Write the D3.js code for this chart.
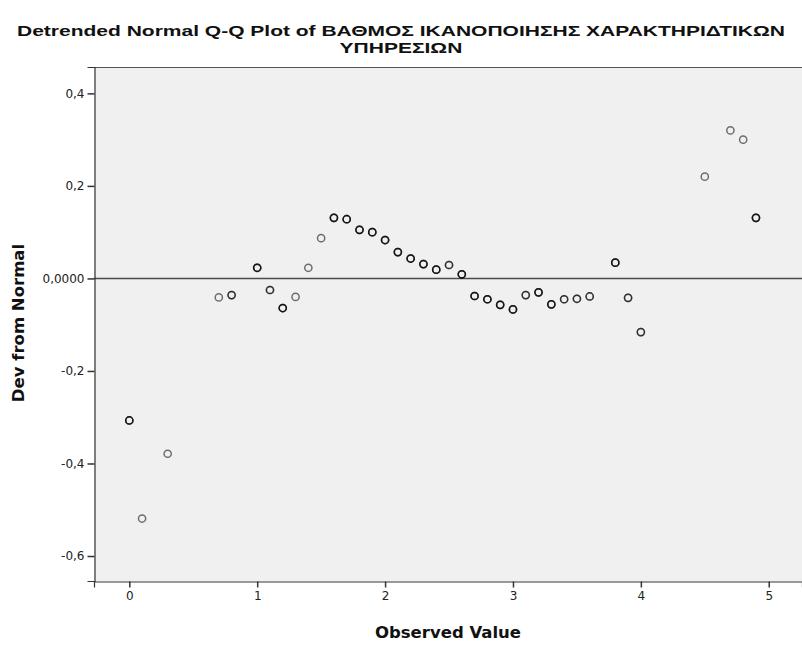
<!DOCTYPE html>
<html>
<head>
<meta charset="utf-8">
<script src="https://cdn.jsdelivr.net/npm/d3@7"></script>
<style>
  html, body { margin: 0; padding: 0; background: #fff; }
  svg { display: block; }
</style>
</head>
<body>
<div id="chart"></div>
<script>
const observed = [0, 0.1, 0.3, 0.7, 0.8, 1.0, 1.1, 1.2, 1.3, 1.4, 1.5, 1.6, 1.7, 1.8, 1.9,
  2.0, 2.1, 2.2, 2.3, 2.4, 2.5, 2.6, 2.7, 2.8, 2.9, 3.0, 3.1, 3.2, 3.3, 3.4, 3.5, 3.6,
  3.8, 3.9, 4.0, 4.5, 4.7, 4.8, 4.9];
const devFromNormal = [-0.307, -0.519, -0.379, -0.041, -0.036, 0.023, -0.025, -0.064, -0.040,
  0.023, 0.087, 0.131, 0.128, 0.105, 0.100, 0.083, 0.057, 0.043, 0.031, 0.019, 0.029, 0.009,
  -0.038, -0.045, -0.057, -0.067, -0.036, -0.030, -0.056, -0.045, -0.044, -0.039,
  0.034, -0.042, -0.116, 0.220, 0.320, 0.300, 0.131];
// how many cases sit on each point (overlapping circles draw darker)
const cases = [3, 1, 1, 1, 2, 3, 2, 3, 1, 1, 1, 3, 3, 3, 3,
  3, 3, 3, 3, 3, 2, 3, 3, 3, 3, 3, 2, 3, 3, 2, 2, 2,
  3, 2, 2, 1, 1, 1, 3];

const xTicks = [0, 1, 2, 3, 4, 5];
const yTicks = [0.4, 0.2, 0, -0.2, -0.4, -0.6];
const yTickLabels = ['0,4', '0,2', '0,0000', '-0,2', '-0,4', '-0,6'];

const titleLines = ['Detrended Normal Q-Q Plot of ΒΑΘΜΟΣ ΙΚΑΝΟΠΟΙΗΣΗΣ ΧΑΡΑΚΤΗΡΙΔΤΙΚΩΝ', 'ΥΠΗΡΕΣΙΩΝ'];
const xTitle = 'Observed Value';
const yTitle = 'Dev from Normal';

const width = 802, height = 653;
const plot = { left: 94, top: 67, right: 802, bottom: 581 };

const svg = d3.select('#chart').append('svg')
  .attr('width', width)
  .attr('height', height);

const x = d3.scaleLinear().domain([-0.276, 5.26]).range([plot.left, plot.right]);
const y = d3.scaleLinear().domain([-0.654, 0.457]).range([plot.bottom, plot.top]);

// plot background
svg.append('rect')
  .attr('x', plot.left)
  .attr('y', plot.top)
  .attr('width', plot.right - plot.left)
  .attr('height', plot.bottom - plot.top)
  .attr('fill', '#f0f0f0');

// top border
svg.append('line')
  .attr('x1', plot.left).attr('x2', plot.right)
  .attr('y1', plot.top + 0.5).attr('y2', plot.top + 0.5)
  .attr('stroke', '#555').attr('stroke-width', 1.2);

// zero reference line
svg.append('line')
  .attr('x1', plot.left).attr('x2', plot.right)
  .attr('y1', y(0)).attr('y2', y(0))
  .attr('stroke', '#4a4a4a').attr('stroke-width', 1.6);

// axes
const xAxis = d3.axisBottom(x).tickValues(xTicks).tickSize(6).tickPadding(4).tickFormat(d3.format('d'));
const yAxis = d3.axisLeft(y).tickValues(yTicks).tickSize(7).tickPadding(3)
  .tickFormat((d, i) => yTickLabels[i]);

const gx = svg.append('g')
  .attr('transform', `translate(0,${plot.bottom + 0.5})`)
  .call(xAxis);
const gy = svg.append('g')
  .attr('transform', `translate(${plot.left + 0.5},0)`)
  .call(yAxis);

[gx, gy].forEach(g => {
  g.select('.domain').attr('stroke', '#333').attr('stroke-width', 1.2);
  g.selectAll('.tick line').attr('stroke', '#333').attr('stroke-width', 1.5);
  g.selectAll('.tick text')
    .attr('fill', '#222')
    .style('font-family', '"DejaVu Sans", sans-serif')
    .style('font-size', '12px');
});

// points
const points = observed.map((v, i) => ({ v, d: devFromNormal[i], n: cases[i] }));
const pts = svg.append('g');
points.forEach(p => {
  for (let k = 0; k < p.n; k++) {
    pts.append('circle')
      .attr('cx', x(p.v))
      .attr('cy', y(p.d))
      .attr('r', 3.6)
      .attr('fill', 'none')
      .attr('stroke', '#000')
      .attr('stroke-opacity', 0.55)
      .attr('stroke-width', 1.5);
  }
});

// titles - the original title is stretched sideways, so fit line 1 to its width
const title = svg.append('text')
  .attr('x', width / 2)
  .attr('y', 35.5)
  .attr('text-anchor', 'middle')
  .style('font-family', '"Liberation Sans", Arial, sans-serif')
  .style('font-weight', 'bold')
  .style('font-size', '15.5px')
  .attr('fill', '#111');
const spans = title.selectAll('tspan')
  .data(titleLines)
  .enter().append('tspan')
  .attr('x', width / 2)
  .attr('dy', (d, i) => i === 0 ? 0 : 17.6)
  .text(d => d);
const natural = spans.nodes().map(n => n.getComputedTextLength());
const stretch = 768 / natural[0];
spans
  .attr('textLength', (d, i) => natural[i] * stretch)
  .attr('lengthAdjust', 'spacingAndGlyphs');

svg.append('text')
  .attr('x', (plot.left + plot.right) / 2)
  .attr('y', 638)
  .attr('text-anchor', 'middle')
  .style('font-family', '"DejaVu Sans", sans-serif')
  .style('font-weight', 'bold')
  .style('font-size', '16.5px')
  .attr('fill', '#111')
  .text(xTitle);

svg.append('text')
  .attr('transform', `translate(24,${(243 + 403) / 2}) rotate(-90)`)
  .attr('text-anchor', 'middle')
  .style('font-family', '"DejaVu Sans", sans-serif')
  .style('font-weight', 'bold')
  .style('font-size', '16.5px')
  .attr('fill', '#111')
  .text(yTitle);
</script>
</body>
</html>
